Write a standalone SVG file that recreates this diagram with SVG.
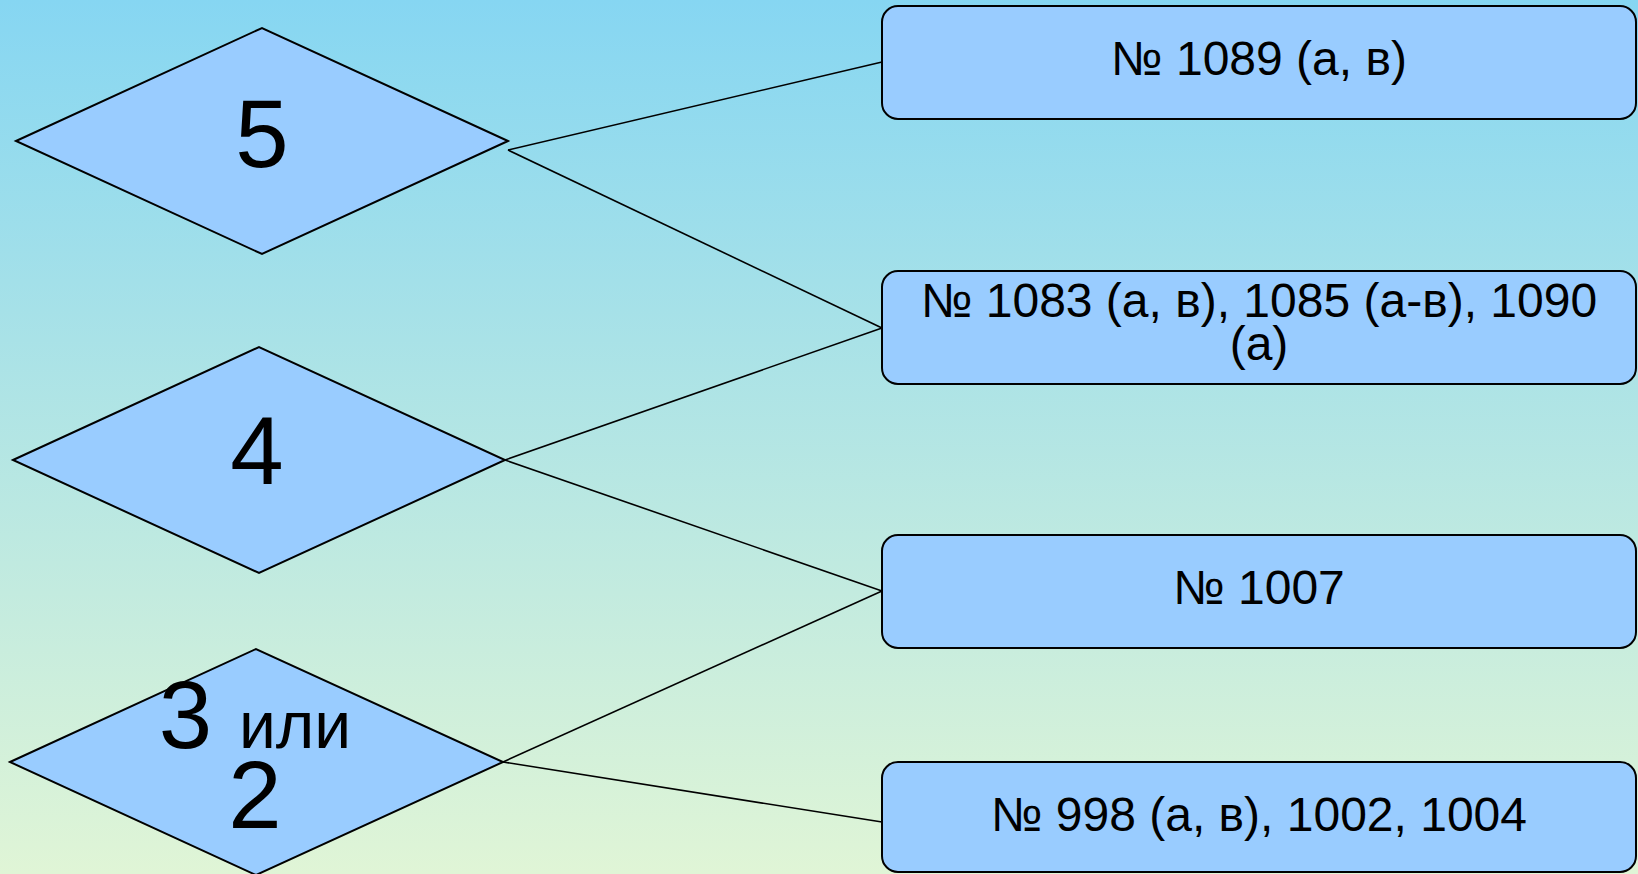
<svg xmlns="http://www.w3.org/2000/svg" width="1638" height="874" viewBox="0 0 1638 874">
<defs>
<linearGradient id="bg" x1="0" y1="0" x2="0" y2="1">
<stop offset="0" stop-color="#86D6F2"/>
<stop offset="1" stop-color="#E0F5D6"/>
</linearGradient>
</defs>
<style>
.shape{fill:#99CCFF;stroke:#000;stroke-width:2}
.conn{stroke:#000;stroke-width:1.6;fill:none}
.big{font-family:"Liberation Sans",Arial,sans-serif;font-size:96px;fill:#000;text-anchor:middle}
.lbl{font-family:"Liberation Sans",Arial,sans-serif;font-size:48px;fill:#000;text-anchor:middle}
</style>
<rect x="0" y="0" width="1638" height="874" fill="url(#bg)"/>
<g id="connectors">
<line class="conn" x1="508" y1="150" x2="882" y2="62"/>
<line class="conn" x1="508" y1="150" x2="882" y2="328"/>
<line class="conn" x1="505" y1="460" x2="882" y2="328"/>
<line class="conn" x1="505" y1="460" x2="882" y2="591"/>
<line class="conn" x1="503" y1="762" x2="882" y2="591"/>
<line class="conn" x1="503" y1="762" x2="882" y2="822"/>
</g>
<g id="d5">
<polygon class="shape" points="16,141 262,28 508,141 262,254"/>
<text class="big" x="262" y="167">5</text>
</g>
<g id="d4">
<polygon class="shape" points="13,460 259,347 505,460 259,573"/>
<text class="big" x="257" y="484">4</text>
</g>
<g id="d3">
<polygon class="shape" points="10,762 256,649 503,762 256,875"/>
<text class="big" x="255" y="748">3 <tspan font-size="66">или</tspan></text>
<text class="big" x="255" y="828">2</text>
</g>
<g id="b1">
<rect class="shape" x="882" y="6" width="754" height="113" rx="16"/>
<text class="lbl" x="1259" y="75">№ 1089 (а, в)</text>
</g>
<g id="b2">
<rect class="shape" x="882" y="271" width="754" height="113" rx="16"/>
<text class="lbl" x="1259" y="317">№ 1083 (а, в), 1085 (а-в), 1090</text>
<text class="lbl" x="1259" y="360">(а)</text>
</g>
<g id="b3">
<rect class="shape" x="882" y="535" width="754" height="113" rx="16"/>
<text class="lbl" x="1259" y="604">№ 1007</text>
</g>
<g id="b4">
<rect class="shape" x="882" y="762" width="754" height="110" rx="16"/>
<text class="lbl" x="1259" y="831">№ 998 (а, в), 1002, 1004</text>
</g>
</svg>
